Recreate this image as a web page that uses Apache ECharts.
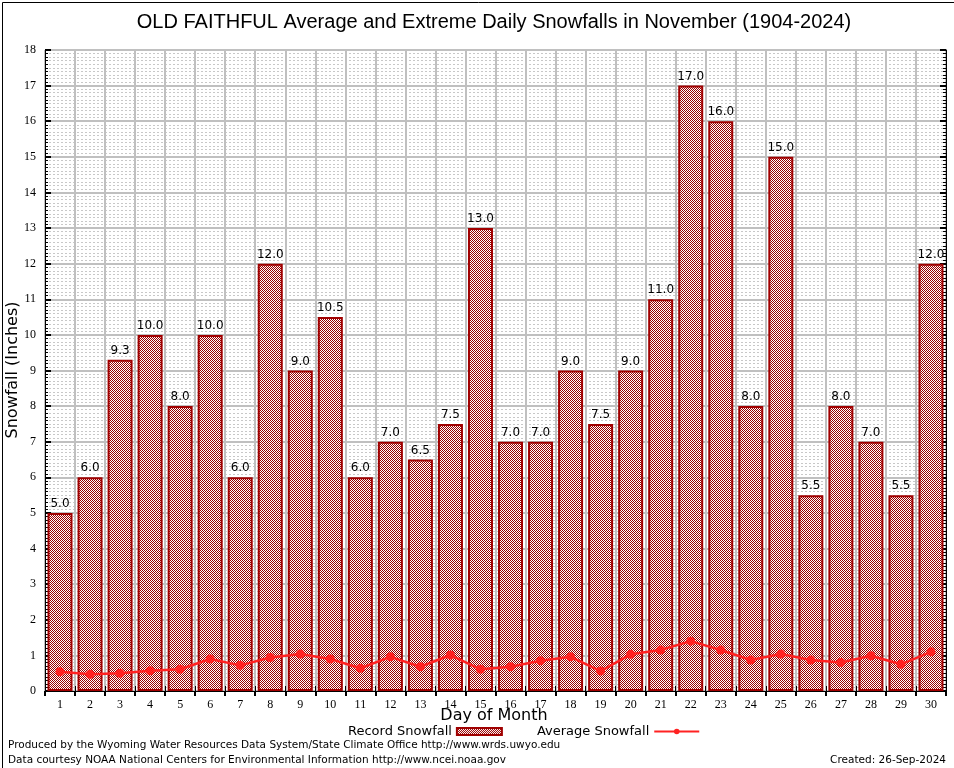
<!DOCTYPE html>
<html>
<head>
<meta charset="utf-8">
<script src="https://cdn.jsdelivr.net/npm/echarts@6/dist/echarts.min.js"></script>
<style>html,body{margin:0;padding:0;background:#fff}#c{width:954px;height:768px}</style>
</head>
<body>
<div id="c"></div>
<script>
const days = ['1','2','3','4','5','6','7','8','9','10','11','12','13','14','15','16','17','18','19','20','21','22','23','24','25','26','27','28','29','30'];
const recordSnowfall = [5.0,6.0,9.3,10.0,8.0,10.0,6.0,12.0,9.0,10.5,6.0,7.0,6.5,7.5,13.0,7.0,7.0,9.0,7.5,9.0,11.0,17.0,16.0,8.0,15.0,5.5,8.0,7.0,5.5,12.0];
const averageSnowfall = [0.54,0.47,0.50,0.57,0.61,0.90,0.72,0.94,1.04,0.90,0.64,0.96,0.68,1.01,0.61,0.68,0.85,0.96,0.56,1.03,1.15,1.40,1.15,0.87,1.04,0.87,0.80,0.99,0.75,1.10];

const pc = document.createElement('canvas');
pc.width = 2; pc.height = 2;
const pctx = pc.getContext('2d');
pctx.fillStyle = '#ffffff'; pctx.fillRect(0,0,2,2);
pctx.fillStyle = '#990000'; pctx.fillRect(0,0,1,1); pctx.fillRect(1,1,1,1);

const chart = echarts.init(document.getElementById('c'), null, {renderer:'canvas', devicePixelRatio: 1});
const serif = 'Liberation Serif';
const sans = 'DejaVu Sans';
chart.setOption({
  animation: false,
  backgroundColor: '#ffffff',
  title: {
    text: 'OLD FAITHFUL Average and Extreme Daily Snowfalls in November (1904-2024)',
    left: 489, top: 7, textAlign: 'center',
    textStyle: {fontFamily: 'Liberation Sans', fontSize: 20, fontWeight: 'normal', color: '#000'}
  },
  legend: {
    left: 343, top: 720, itemGap: 34, align: 'right',
    textStyle: {fontFamily: sans, fontSize: 13, color: '#000'},
    data: [
      {name: 'Record Snowfall', icon: 'rect', itemStyle: {color: {image: pc, repeat: 'repeat'}, borderColor: '#a00000', borderWidth: 2}},
      {name: 'Average Snowfall'}
    ],
    itemWidth: 45, itemHeight: 7
  },
  grid: {left: 45, right: 8, top: 50, bottom: 77, outerBoundsMode: 'none', containLabel: false},
  xAxis: [{
    type: 'category', data: days, boundaryGap: true,
    axisLine: {lineStyle: {color: '#000', width: 1}},
    axisTick: {show: true, inside: true, length: 5, lineStyle: {color: '#000'}},
    axisLabel: {fontFamily: serif, fontSize: 12, color: '#000', margin: 8, interval: 0},
    splitLine: {show: true, interval: 0, lineStyle: {color: '#c0c0c0', width: 2}}
  },{
    type: 'category', data: days, position: 'top', boundaryGap: true,
    axisLine: {lineStyle: {color: '#000', width: 1}},
    axisTick: {show: true, inside: true, length: 5, lineStyle: {color: '#000', width: 2}},
    axisLabel: {show: false}, splitLine: {show: false}
  }],
  yAxis: [{
    type: 'value', min: 0, max: 18, interval: 1,
    axisLine: {show: true, lineStyle: {color: '#000', width: 1}},
    axisTick: {show: true, inside: true, length: 6, lineStyle: {color: '#000', width: 2}},
    minorTick: {show: true, splitNumber: 10, length: 3, lineStyle: {color: '#000'}},
    axisLabel: {fontFamily: serif, fontSize: 12, color: '#000', margin: 9},
    splitLine: {show: true, lineStyle: {color: '#c0c0c0', width: 2}},
    minorSplitLine: {show: true, lineStyle: {color: '#c8c8c8', width: 1, type: [2,2]}}
  },{
    type: 'value', min: 0, max: 18, interval: 1, position: 'right',
    axisLine: {show: true, lineStyle: {color: '#000', width: 1}},
    axisTick: {show: true, inside: true, length: 6, lineStyle: {color: '#000', width: 2}},
    minorTick: {show: true, splitNumber: 10, length: 3, lineStyle: {color: '#000'}},
    axisLabel: {show: false}, splitLine: {show: false}
  }],
  series: [{
    name: 'Record Snowfall', type: 'bar', data: recordSnowfall, barWidth: 25,
    itemStyle: {color: {image: pc, repeat: 'repeat'}, borderColor: '#a00000', borderWidth: 2},
    label: {show: true, position: 'top', distance: 3, fontFamily: sans, fontSize: 12, color: '#000',
      formatter: p => p.value.toFixed(1)},
    z: 2
  },{
    name: 'Average Snowfall', type: 'line', data: averageSnowfall,
    symbol: 'circle', symbolSize: 9,
    lineStyle: {color: '#ff2222', width: 2.5}, itemStyle: {color: '#ff2222'},
    z: 5
  }],
  graphic: [
    {type: 'rect', left: 0, top: 0, shape: {x: 0.5, y: 0.5, width: 953, height: 767}, style: {fill: null, stroke: '#000', lineWidth: 1}, silent: true},
    {type: 'text', x: 13, y: 370, rotation: Math.PI / 2, style: {text: 'Snowfall (Inches)', font: '16px "DejaVu Sans"', fill: '#000', align: 'center', verticalAlign: 'middle'}},
    {type: 'text', x: 494, y: 716, style: {text: 'Day of Month', font: '16px "DejaVu Sans"', fill: '#000', align: 'center', verticalAlign: 'middle'}},
    {type: 'text', left: 8, top: 740, style: {text: 'Produced by the Wyoming Water Resources Data System/State Climate Office http://www.wrds.uwyo.edu', font: '10.5px "DejaVu Sans"', fill: '#000'}},
    {type: 'text', left: 8, top: 755, style: {text: 'Data courtesy NOAA National Centers for Environmental Information http://www.ncei.noaa.gov', font: '10.5px "DejaVu Sans"', fill: '#000'}},
    {type: 'text', right: 8, top: 755, style: {text: 'Created: 26-Sep-2024', font: '10.5px "DejaVu Sans"', fill: '#000'}}
  ]
});
</script>
</body>
</html>
